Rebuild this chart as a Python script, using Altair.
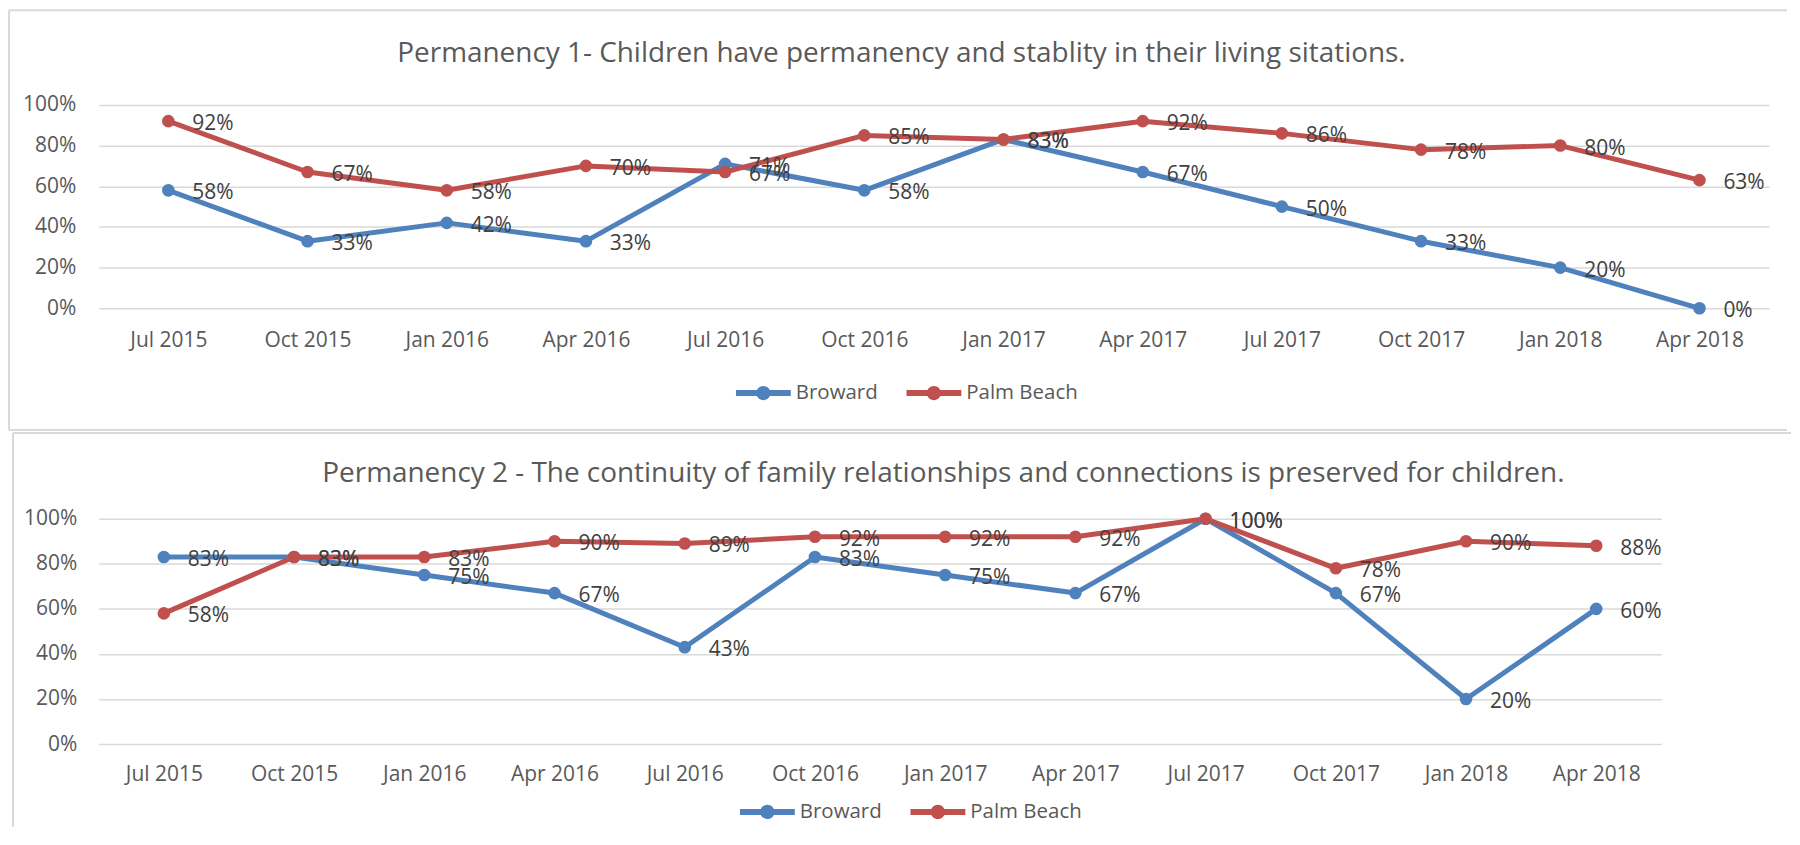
import altair as alt
import pandas as pd

# ---------------- data ----------------
periods = ["Jul 2015", "Oct 2015", "Jan 2016", "Apr 2016", "Jul 2016", "Oct 2016",
           "Jan 2017", "Apr 2017", "Jul 2017", "Oct 2017", "Jan 2018", "Apr 2018"]
series_names = ["Broward", "Palm Beach"]
series_colors = ["#4F81BD", "#C0504D"]
y_ticks = [0, 20, 40, 60, 80, 100]

p1_title = "Permanency 1- Children have permanency and stablity in their living sitations."
p1_broward = [58, 33, 42, 33, 71, 58, 83, 67, 50, 33, 20, 0]
p1_palm = [92, 67, 58, 70, 67, 85, 83, 92, 86, 78, 80, 63]

p2_title = "Permanency 2 - The continuity of family relationships and connections is preserved for children."
p2_broward = [83, 83, 75, 67, 43, 83, 75, 67, 100, 67, 20, 60]
p2_palm = [58, 83, 83, 90, 89, 92, 92, 92, 100, 78, 90, 88]

FONT = "Open Sans"
GRID = "#d9d9d9"
TXT = "#595959"
LEGEND_SYMBOL = ("M-1,-0.11H1V0.11H-1Z "
                 "M0.26,0A0.26,0.26 0 1,1 -0.26,0A0.26,0.26 0 1,1 0.26,0Z")


def build_panel(title, b_vals, p_vals, W, H, ox, oy, title_x, title_y,
                leg_x, leg_y, frame_top, frame_bottom, bottom_rule, xpad, ypad):
    df = pd.DataFrame({
        "period": periods * 2,
        "series": [series_names[0]] * len(periods) + [series_names[1]] * len(periods),
        "value": b_vals + p_vals,
    })
    xenc = alt.X("period:N", sort=periods,
                 scale=alt.Scale(type="point", padding=0.5),
                 axis=alt.Axis(title=None, labelAngle=0, domain=False, ticks=False,
                               tickSize=0, grid=False, labelPadding=xpad,
                               labelOverlap=False, labelFontSize=21))
    yenc = alt.Y("value:Q", scale=alt.Scale(domain=[0, 100], nice=False),
                 axis=alt.Axis(values=y_ticks, labelExpr="datum.value + '%'",
                               title=None, domain=False, ticks=False, tickSize=0,
                               grid=True, labelPadding=ypad, labelFontSize=21))
    base = alt.Chart(df).encode(x=xenc, y=yenc)

    leg = alt.Legend(orient="none", legendX=leg_x - ox, legendY=leg_y - oy,
                     direction="horizontal", title=None, symbolType=LEGEND_SYMBOL,
                     symbolSize=3025, symbolStrokeWidth=0, symbolOpacity=1,
                     labelFont=FONT, labelFontSize=20.5, labelColor=TXT,
                     labelOffset=5, columnPadding=28, padding=0)

    # line stroke scale has an explicit domain; the point colour scale takes the
    # (same, alphabetical) domain from the data so that the two legends stay apart
    lines = base.mark_line(strokeWidth=5, strokeJoin="round", strokeCap="round").encode(
        stroke=alt.Stroke("series:N",
                          scale=alt.Scale(domain=series_names, range=series_colors),
                          legend=None))
    pts = base.mark_circle(size=160, opacity=1).encode(
        color=alt.Color("series:N", scale=alt.Scale(range=series_colors), legend=leg))
    labels = base.transform_calculate(lbl="datum.value + '%'").mark_text(
        align="left", baseline="middle", dx=24, dy=3, font=FONT, fontSize=21,
        color="#404040").encode(text="lbl:N")

    ttl = alt.Chart(pd.DataFrame({"t": [title]})).mark_text(
        font=FONT, fontSize=28, color=TXT, align="center", baseline="alphabetic"
    ).encode(text="t:N", x=alt.value(title_x - ox), y=alt.value(title_y - oy))

    one = pd.DataFrame({"k": [0]})
    rule = dict(color=GRID, strokeWidth=2)
    left_rule = alt.Chart(one).mark_rule(**rule).encode(
        x=alt.value(9 - ox), y=alt.value(frame_top - oy), y2=alt.value(frame_bottom - oy))
    top_rule = alt.Chart(one).mark_rule(**rule).encode(
        x=alt.value(9 - ox), x2=alt.value(1792 - ox), y=alt.value(frame_top - oy))
    layers = [left_rule, top_rule]
    if bottom_rule:
        layers.append(alt.Chart(one).mark_rule(**rule).encode(
            x=alt.value(9 - ox), x2=alt.value(1792 - ox), y=alt.value(frame_bottom - oy)))
    layers += [lines, pts, labels, ttl]
    return alt.layer(*layers).properties(width=W, height=H)


top = build_panel(p1_title, p1_broward, p1_palm, W=1675, H=204, ox=99, oy=104,
                  title_x=904, title_y=61, leg_x=738, leg_y=365.5,
                  frame_top=9, frame_bottom=430, bottom_rule=True, xpad=21, ypad=23)
bottom = build_panel(p2_title, p2_broward, p2_palm, W=1567, H=226, ox=95, oy=519,
                     title_x=942, title_y=482, leg_x=738, leg_y=785.5,
                     frame_top=433, frame_bottom=828, bottom_rule=False, xpad=20, ypad=22)

chart = alt.ConcatChart(
    concat=[top, bottom], columns=1, align="none", spacing=1, bounds="full",
    padding=0, background="white",
).resolve_scale(
    color="independent", stroke="independent", x="independent", y="independent"
).resolve_legend(color="independent").configure_view(stroke=None).configure_axis(
    labelFont=FONT, labelColor=TXT, gridColor=GRID, gridWidth=1.5
)

chart.save("out.html", embed_options={"renderer": "svg", "actions": False})
